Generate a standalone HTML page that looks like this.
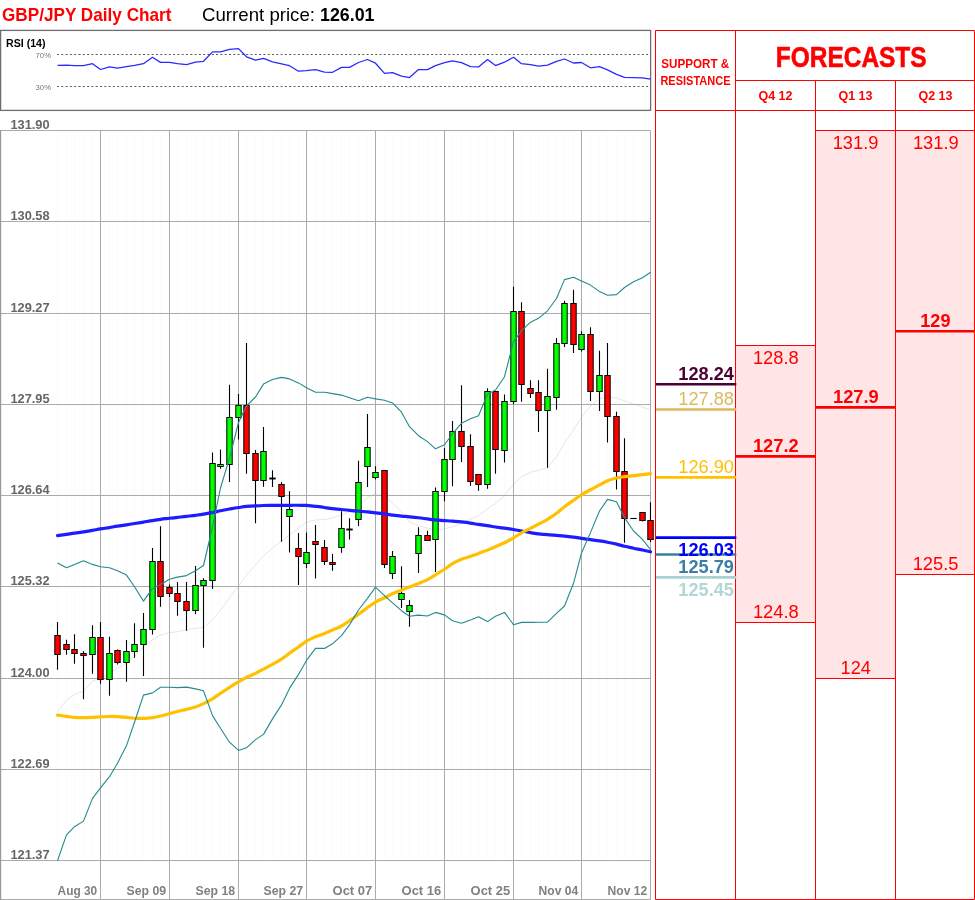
<!DOCTYPE html>
<html lang="en">
<head>
<meta charset="utf-8">
<title>GBP/JPY Daily Chart</title>
<style>html,body{margin:0;padding:0;background:#fff}body{width:975px;height:900px;overflow:hidden}svg{display:block}</style>
</head>
<body>
<svg width="975" height="900" viewBox="0 0 975 900" font-family='"Liberation Sans", Arial, sans-serif'>
<rect width="975" height="900" fill="#fff"/>
<text x="2" y="20.5" font-size="18.2" fill="#ff0000" font-weight="bold" textLength="169.5" lengthAdjust="spacingAndGlyphs">GBP/JPY Daily Chart</text>
<text x="202" y="20.5" font-size="18.2" fill="#000" textLength="113" lengthAdjust="spacingAndGlyphs">Current price:</text>
<text x="320" y="20.5" font-size="18.2" fill="#000" font-weight="bold" textLength="54.5" lengthAdjust="spacingAndGlyphs">126.01</text>
<rect x="0.6" y="30.4" width="650" height="80" fill="#fff" stroke="#6e6e6e" stroke-width="1.3"/>
<text x="6" y="47.1" font-size="11.6" fill="#000" font-weight="bold" textLength="39.5" lengthAdjust="spacingAndGlyphs">RSI (14)</text>
<text x="35.6" y="57.7" font-size="7.8" fill="#757575" textLength="15.4" lengthAdjust="spacingAndGlyphs">70%</text>
<text x="35.6" y="89.8" font-size="7.8" fill="#757575" textLength="15.4" lengthAdjust="spacingAndGlyphs">30%</text>
<path d="M57 54.5H650M57 86.5H650" stroke="#5a5a5a" stroke-width="1" stroke-dasharray="2 2.3" fill="none"/>
<polyline points="57.5,65.4 66.5,65.1 74.5,65.6 83.5,65.6 92.5,63.7 100.5,69.5 109.5,66.8 117.5,68.1 126.5,66.6 134.5,65.4 143.5,63.7 152.5,57.3 160.5,62.4 169.5,62.4 177.5,63.7 186.5,64.7 195.5,62.2 203.5,61.3 212.5,51.9 220.5,51.9 229.5,49.3 238.5,48.6 246.5,56.8 255.5,60.2 263.5,58.3 272.5,61.8 281.5,63.9 289.5,65.7 298.5,71.2 306.5,70.6 315.5,69.6 324.5,72.2 332.5,72.3 341.5,67.4 349.5,67.4 358.5,62.5 367.5,59.5 375.5,63.2 384.5,73.4 392.5,72.7 401.5,76.2 409.5,77.6 418.5,69.6 427.5,69.6 435.5,65.6 444.5,62.7 452.5,60.8 461.5,62.7 470.5,66.6 478.5,66.9 487.5,59.6 495.5,65.6 504.5,62.2 513.5,57.3 521.5,63.7 530.5,64.6 538.5,66.1 547.5,65.1 556.5,61.3 564.5,59.0 573.5,63.0 581.5,62.5 590.5,67.8 599.5,66.6 607.5,69.8 616.5,74.4 624.5,77.4 633.5,77.6 642.5,77.8 650.5,79.1" fill="none" stroke="#2a2aff" stroke-width="1.3" stroke-linejoin="round"/>
<path d="M57.5 130.5V860.5M66.5 130.5V860.5M74.5 130.5V860.5M83.5 130.5V860.5M92.5 130.5V860.5M109.5 130.5V860.5M117.5 130.5V860.5M126.5 130.5V860.5M134.5 130.5V860.5M143.5 130.5V860.5M152.5 130.5V860.5M160.5 130.5V860.5M177.5 130.5V860.5M186.5 130.5V860.5M195.5 130.5V860.5M203.5 130.5V860.5M212.5 130.5V860.5M220.5 130.5V860.5M229.5 130.5V860.5M246.5 130.5V860.5M255.5 130.5V860.5M263.5 130.5V860.5M272.5 130.5V860.5M281.5 130.5V860.5M289.5 130.5V860.5M298.5 130.5V860.5M315.5 130.5V860.5M324.5 130.5V860.5M332.5 130.5V860.5M341.5 130.5V860.5M349.5 130.5V860.5M358.5 130.5V860.5M367.5 130.5V860.5M384.5 130.5V860.5M392.5 130.5V860.5M401.5 130.5V860.5M409.5 130.5V860.5M418.5 130.5V860.5M427.5 130.5V860.5M435.5 130.5V860.5M452.5 130.5V860.5M461.5 130.5V860.5M470.5 130.5V860.5M478.5 130.5V860.5M487.5 130.5V860.5M495.5 130.5V860.5M504.5 130.5V860.5M521.5 130.5V860.5M530.5 130.5V860.5M538.5 130.5V860.5M547.5 130.5V860.5M556.5 130.5V860.5M564.5 130.5V860.5M573.5 130.5V860.5M590.5 130.5V860.5M599.5 130.5V860.5M607.5 130.5V860.5M616.5 130.5V860.5M624.5 130.5V860.5M633.5 130.5V860.5M642.5 130.5V860.5" stroke="#fbfbfb" stroke-width="1" fill="none"/>
<polyline points="57.5,711.8 66.5,700 74.5,694.5 83.5,691 92.5,681 100.5,678.7 109.5,673 117.5,668 126.5,663 134.5,656.7 143.5,646.7 152.5,639.7 160.5,635 169.5,632.8 177.5,631.7 186.5,630 195.5,628.3 203.5,627.5 212.5,620 220.5,610 229.5,598 238.5,586 246.5,575 255.5,565 263.5,556 272.5,548 281.5,541 289.5,535 298.5,528 306.5,522 315.5,520 324.5,519.5 332.5,518 341.5,515 349.5,512 358.5,506 367.5,498 375.5,493.5 384.5,497 392.5,503 401.5,512 409.5,522 418.5,525.6 427.5,528.2 435.5,530 444.5,528.9 452.5,526.7 461.5,523.3 470.5,519.3 478.5,515.6 487.5,508.9 495.5,503.3 504.5,495.6 513.5,484.4 521.5,476.7 530.5,472.2 538.5,470.4 547.5,467.8 556.5,456.7 564.5,443 573.5,430 581.5,417 590.5,406 599.5,399 607.5,397 616.5,398 624.5,401 633.5,404 642.5,407 650.5,410" fill="none" stroke="#e6e6e6" stroke-width="1"/>
<path d="M0 130.5H650.5M0 221.5H650.5M0 313.5H650.5M0 404.5H650.5M0 495.5H650.5M0 586.5H650.5M0 678.5H650.5M0 769.5H650.5M0 860.5H650.5M100.5 130.5V899.5M169.5 130.5V899.5M238.5 130.5V899.5M306.5 130.5V899.5M375.5 130.5V899.5M444.5 130.5V899.5M513.5 130.5V899.5M581.5 130.5V899.5M650.5 130.5V899.5M0 899.5H651.0" stroke="#ababab" stroke-width="1" fill="none"/>
<path d="M0.6 130.0V900" stroke="#999" stroke-width="1.2" fill="none"/>
<text x="10.4" y="128.8" font-size="12.4" fill="#666" font-weight="bold" textLength="39.2" lengthAdjust="spacingAndGlyphs">131.90</text>
<text x="10.4" y="219.8" font-size="12.4" fill="#666" font-weight="bold" textLength="39.2" lengthAdjust="spacingAndGlyphs">130.58</text>
<text x="10.4" y="311.8" font-size="12.4" fill="#666" font-weight="bold" textLength="39.2" lengthAdjust="spacingAndGlyphs">129.27</text>
<text x="10.4" y="402.8" font-size="12.4" fill="#666" font-weight="bold" textLength="39.2" lengthAdjust="spacingAndGlyphs">127.95</text>
<text x="10.4" y="493.8" font-size="12.4" fill="#666" font-weight="bold" textLength="39.2" lengthAdjust="spacingAndGlyphs">126.64</text>
<text x="10.4" y="584.8" font-size="12.4" fill="#666" font-weight="bold" textLength="39.2" lengthAdjust="spacingAndGlyphs">125.32</text>
<text x="10.4" y="676.8" font-size="12.4" fill="#666" font-weight="bold" textLength="39.2" lengthAdjust="spacingAndGlyphs">124.00</text>
<text x="10.4" y="767.8" font-size="12.4" fill="#666" font-weight="bold" textLength="39.2" lengthAdjust="spacingAndGlyphs">122.69</text>
<text x="10.4" y="858.8" font-size="12.4" fill="#666" font-weight="bold" textLength="39.2" lengthAdjust="spacingAndGlyphs">121.37</text>
<text x="97.2" y="894.6" font-size="12.4" fill="#808080" font-weight="bold" text-anchor="end" textLength="39.6" lengthAdjust="spacingAndGlyphs">Aug 30</text>
<text x="166.2" y="894.6" font-size="12.4" fill="#808080" font-weight="bold" text-anchor="end" textLength="39.6" lengthAdjust="spacingAndGlyphs">Sep 09</text>
<text x="235.2" y="894.6" font-size="12.4" fill="#808080" font-weight="bold" text-anchor="end" textLength="39.6" lengthAdjust="spacingAndGlyphs">Sep 18</text>
<text x="303.2" y="894.6" font-size="12.4" fill="#808080" font-weight="bold" text-anchor="end" textLength="39.6" lengthAdjust="spacingAndGlyphs">Sep 27</text>
<text x="372.2" y="894.6" font-size="12.4" fill="#808080" font-weight="bold" text-anchor="end" textLength="39.6" lengthAdjust="spacingAndGlyphs">Oct 07</text>
<text x="441.2" y="894.6" font-size="12.4" fill="#808080" font-weight="bold" text-anchor="end" textLength="39.6" lengthAdjust="spacingAndGlyphs">Oct 16</text>
<text x="510.2" y="894.6" font-size="12.4" fill="#808080" font-weight="bold" text-anchor="end" textLength="39.6" lengthAdjust="spacingAndGlyphs">Oct 25</text>
<text x="578.2" y="894.6" font-size="12.4" fill="#808080" font-weight="bold" text-anchor="end" textLength="39.6" lengthAdjust="spacingAndGlyphs">Nov 04</text>
<text x="647.2" y="894.6" font-size="12.4" fill="#808080" font-weight="bold" text-anchor="end" textLength="39.6" lengthAdjust="spacingAndGlyphs">Nov 12</text>
<path d="M57.5 622V669.7M66.5 639.7V654.7M74.5 634.2V663.7M83.5 651.3V699.3M92.5 625.2V673.8M100.5 622V683.7M109.5 636.7V695.8M117.5 649.5V664.5M126.5 640V681.7M134.5 623.2V657.7M143.5 613V676M152.5 548V634.5M160.5 526.3V606.7M169.5 584.5V597M177.5 582V615.8M186.5 582V630.7M195.5 566V614.2M203.5 578.3V647.8M212.5 452.5V589M220.5 449.5V468.7M229.5 384.7V482M238.5 394V439.5M246.5 343V473.7M255.5 450V523.3M263.5 427V486.7M272.5 470.3V487M281.5 482V541.7M289.5 491.3V552.5M298.5 533V585M306.5 532.5V568M315.5 525V578.5M324.5 540V565M332.5 554V570.7M341.5 511.3V552.7M349.5 518.3V539.5M358.5 460.8V526M367.5 414V487M375.5 466.3V479.5M384.5 470V568M392.5 551V579M401.5 566.3V608M409.5 600V626.7M418.5 527.2V573M427.5 530.8V541M435.5 487.5V572M444.5 448V501.3M452.5 421V486.3M461.5 385.3V462M470.5 434.3V485.8M478.5 474.5V490.8M487.5 388.3V488.7M495.5 391V473.8M504.5 394.5V462.5M513.5 286.7V404.2M521.5 302.2V401.7M530.5 380.3V398M538.5 380.2V432M547.5 368.8V467.7M556.5 338V409.7M564.5 300.8V347M573.5 289.7V353M581.5 331.3V351.5M590.5 327.2V401M599.5 350.8V411M607.5 343V442.6M616.5 411.8V489.4M624.5 438.3V542.8M642.5 512.5V521.4M650.5 502.2V542" stroke="#000" stroke-width="1.1" fill="none"/>
<rect x="54.8" y="635.5" width="5.4" height="19.0" fill="#ff0000" stroke="#000" stroke-width="1"/>
<rect x="63.8" y="644.5" width="5.4" height="5.0" fill="#ff0000" stroke="#000" stroke-width="1"/>
<rect x="71.8" y="649.5" width="5.4" height="4.0" fill="#ff0000" stroke="#000" stroke-width="1"/>
<rect x="80.8" y="653.5" width="5.4" height="2.0" fill="#ff0000" stroke="#000" stroke-width="1"/>
<rect x="89.8" y="637.5" width="5.4" height="17.0" fill="#00ff00" stroke="#000" stroke-width="1"/>
<rect x="97.8" y="637.5" width="5.4" height="42.0" fill="#ff0000" stroke="#000" stroke-width="1"/>
<rect x="106.8" y="653.5" width="5.4" height="26.0" fill="#00ff00" stroke="#000" stroke-width="1"/>
<rect x="114.8" y="650.5" width="5.4" height="12.0" fill="#ff0000" stroke="#000" stroke-width="1"/>
<rect x="123.8" y="651.5" width="5.4" height="11.0" fill="#00ff00" stroke="#000" stroke-width="1"/>
<rect x="131.8" y="644.5" width="5.4" height="7.0" fill="#00ff00" stroke="#000" stroke-width="1"/>
<rect x="140.8" y="629.5" width="5.4" height="15.0" fill="#00ff00" stroke="#000" stroke-width="1"/>
<rect x="149.8" y="561.5" width="5.4" height="68.0" fill="#00ff00" stroke="#000" stroke-width="1"/>
<rect x="157.8" y="561.5" width="5.4" height="35.0" fill="#ff0000" stroke="#000" stroke-width="1"/>
<rect x="166.8" y="587.5" width="5.4" height="6.0" fill="#ff0000" stroke="#000" stroke-width="1"/>
<rect x="174.8" y="593.5" width="5.4" height="8.0" fill="#ff0000" stroke="#000" stroke-width="1"/>
<rect x="183.8" y="601.5" width="5.4" height="9.0" fill="#ff0000" stroke="#000" stroke-width="1"/>
<rect x="192.8" y="585.5" width="5.4" height="25.0" fill="#00ff00" stroke="#000" stroke-width="1"/>
<rect x="200.8" y="580.5" width="5.4" height="5.0" fill="#00ff00" stroke="#000" stroke-width="1"/>
<rect x="209.8" y="463.5" width="5.4" height="117.0" fill="#00ff00" stroke="#000" stroke-width="1"/>
<rect x="217.8" y="464.5" width="5.4" height="2.0" fill="#00ff00" stroke="#000" stroke-width="1"/>
<rect x="226.8" y="417.5" width="5.4" height="47.0" fill="#00ff00" stroke="#000" stroke-width="1"/>
<rect x="235.8" y="405.5" width="5.4" height="12.0" fill="#00ff00" stroke="#000" stroke-width="1"/>
<rect x="243.8" y="405.5" width="5.4" height="48.0" fill="#ff0000" stroke="#000" stroke-width="1"/>
<rect x="252.8" y="453.5" width="5.4" height="27.0" fill="#ff0000" stroke="#000" stroke-width="1"/>
<rect x="260.8" y="451.5" width="5.4" height="29.0" fill="#00ff00" stroke="#000" stroke-width="1"/>
<path d="M269.3 478.5H275.7" stroke="#000" stroke-width="1.9" fill="none"/>
<rect x="278.8" y="484.5" width="5.4" height="12.0" fill="#ff0000" stroke="#000" stroke-width="1"/>
<rect x="286.8" y="509.5" width="5.4" height="7.0" fill="#00ff00" stroke="#000" stroke-width="1"/>
<rect x="295.8" y="548.5" width="5.4" height="8.0" fill="#ff0000" stroke="#000" stroke-width="1"/>
<rect x="303.8" y="552.5" width="5.4" height="11.0" fill="#00ff00" stroke="#000" stroke-width="1"/>
<rect x="312.8" y="541.5" width="5.4" height="3.0" fill="#ff0000" stroke="#000" stroke-width="1"/>
<rect x="321.8" y="547.5" width="5.4" height="14.0" fill="#ff0000" stroke="#000" stroke-width="1"/>
<rect x="329.8" y="562.5" width="5.4" height="2.0" fill="#ff0000" stroke="#000" stroke-width="1"/>
<rect x="338.8" y="528.5" width="5.4" height="19.0" fill="#00ff00" stroke="#000" stroke-width="1"/>
<path d="M346.3 529.5H352.7" stroke="#000" stroke-width="1.9" fill="none"/>
<rect x="355.8" y="482.5" width="5.4" height="37.0" fill="#00ff00" stroke="#000" stroke-width="1"/>
<rect x="364.8" y="447.5" width="5.4" height="19.0" fill="#00ff00" stroke="#000" stroke-width="1"/>
<rect x="372.8" y="472.5" width="5.4" height="5.0" fill="#00ff00" stroke="#000" stroke-width="1"/>
<rect x="381.8" y="470.5" width="5.4" height="94.0" fill="#ff0000" stroke="#000" stroke-width="1"/>
<rect x="389.8" y="556.5" width="5.4" height="17.0" fill="#00ff00" stroke="#000" stroke-width="1"/>
<rect x="398.8" y="593.5" width="5.4" height="6.0" fill="#00ff00" stroke="#000" stroke-width="1"/>
<rect x="406.8" y="605.5" width="5.4" height="6.0" fill="#00ff00" stroke="#000" stroke-width="1"/>
<rect x="415.8" y="535.5" width="5.4" height="18.0" fill="#00ff00" stroke="#000" stroke-width="1"/>
<rect x="424.8" y="535.5" width="5.4" height="5.0" fill="#ff0000" stroke="#000" stroke-width="1"/>
<rect x="432.8" y="491.5" width="5.4" height="48.0" fill="#00ff00" stroke="#000" stroke-width="1"/>
<rect x="441.8" y="459.5" width="5.4" height="32.0" fill="#00ff00" stroke="#000" stroke-width="1"/>
<rect x="449.8" y="431.5" width="5.4" height="28.0" fill="#00ff00" stroke="#000" stroke-width="1"/>
<rect x="458.8" y="431.5" width="5.4" height="15.0" fill="#ff0000" stroke="#000" stroke-width="1"/>
<rect x="467.8" y="446.5" width="5.4" height="35.0" fill="#ff0000" stroke="#000" stroke-width="1"/>
<rect x="475.8" y="474.5" width="5.4" height="10.0" fill="#ff0000" stroke="#000" stroke-width="1"/>
<rect x="484.8" y="391.5" width="5.4" height="93.0" fill="#00ff00" stroke="#000" stroke-width="1"/>
<rect x="492.8" y="391.5" width="5.4" height="58.0" fill="#ff0000" stroke="#000" stroke-width="1"/>
<rect x="501.8" y="401.5" width="5.4" height="49.0" fill="#00ff00" stroke="#000" stroke-width="1"/>
<rect x="510.8" y="311.5" width="5.4" height="90.0" fill="#00ff00" stroke="#000" stroke-width="1"/>
<rect x="518.8" y="311.5" width="5.4" height="73.0" fill="#ff0000" stroke="#000" stroke-width="1"/>
<rect x="527.8" y="388.5" width="5.4" height="5.0" fill="#ff0000" stroke="#000" stroke-width="1"/>
<rect x="535.8" y="392.5" width="5.4" height="18.0" fill="#ff0000" stroke="#000" stroke-width="1"/>
<rect x="544.8" y="396.5" width="5.4" height="14.0" fill="#00ff00" stroke="#000" stroke-width="1"/>
<rect x="553.8" y="343.5" width="5.4" height="54.0" fill="#00ff00" stroke="#000" stroke-width="1"/>
<rect x="561.8" y="303.5" width="5.4" height="40.0" fill="#00ff00" stroke="#000" stroke-width="1"/>
<rect x="570.8" y="303.5" width="5.4" height="41.0" fill="#ff0000" stroke="#000" stroke-width="1"/>
<rect x="578.8" y="334.5" width="5.4" height="15.0" fill="#00ff00" stroke="#000" stroke-width="1"/>
<rect x="587.8" y="334.5" width="5.4" height="57.0" fill="#ff0000" stroke="#000" stroke-width="1"/>
<rect x="596.8" y="375.5" width="5.4" height="16.0" fill="#00ff00" stroke="#000" stroke-width="1"/>
<rect x="604.8" y="375.5" width="5.4" height="41.0" fill="#ff0000" stroke="#000" stroke-width="1"/>
<rect x="613.8" y="416.5" width="5.4" height="55.0" fill="#ff0000" stroke="#000" stroke-width="1"/>
<rect x="621.8" y="471.5" width="5.4" height="47.0" fill="#ff0000" stroke="#000" stroke-width="1"/>
<path d="M630.3 518.5H636.7" stroke="#000" stroke-width="1.1" fill="none"/>
<rect x="639.8" y="512.5" width="5.4" height="8.0" fill="#ff0000" stroke="#000" stroke-width="1"/>
<rect x="647.8" y="520.5" width="5.4" height="19.0" fill="#ff0000" stroke="#000" stroke-width="1"/>
<path d="M57.5 535.6C59.0 535.4 63.7 534.8 66.5 534.42C69.3 534.0 71.7 533.6 74.5 533.2C77.3 532.8 80.5 532.3 83.5 531.82C86.5 531.4 89.7 530.9 92.5 530.38C95.3 529.9 97.7 529.4 100.5 528.95C103.3 528.5 106.7 528.0 109.5 527.58C112.3 527.1 114.7 526.6 117.5 526.17C120.3 525.7 123.7 525.2 126.5 524.8C129.3 524.4 131.7 524.0 134.5 523.53C137.3 523.1 140.5 522.6 143.5 522.1C146.5 521.6 149.7 521.0 152.5 520.58C155.3 520.1 157.7 519.7 160.5 519.3C163.3 518.9 166.7 518.6 169.5 518.25C172.3 517.9 174.7 517.6 177.5 517.3C180.3 517.0 183.5 516.7 186.5 516.35C189.5 516.0 192.7 515.7 195.5 515.3C198.3 514.9 200.7 514.6 203.5 514.1C206.3 513.6 209.7 513.1 212.5 512.58C215.3 512.0 217.7 511.4 220.5 510.8C223.3 510.2 226.5 509.6 229.5 509.05C232.5 508.5 235.7 507.9 238.5 507.5C241.3 507.1 243.7 506.7 246.5 506.43C249.3 506.2 252.7 506.0 255.5 505.85C258.3 505.7 260.7 505.6 263.5 505.52C266.3 505.4 269.5 505.4 272.5 505.35C275.5 505.3 278.7 505.3 281.5 505.3C284.3 505.3 286.7 505.3 289.5 505.28C292.3 505.3 295.7 505.2 298.5 505.23C301.3 505.3 303.7 505.3 306.5 505.47C309.3 505.7 312.5 506.0 315.5 506.32C318.5 506.7 321.7 507.1 324.5 507.5C327.3 507.9 329.7 508.3 332.5 508.6C335.3 508.9 338.7 509.2 341.5 509.5C344.3 509.8 346.7 510.1 349.5 510.32C352.3 510.6 355.5 510.9 358.5 511.12C361.5 511.4 364.7 511.6 367.5 511.88C370.3 512.2 372.7 512.5 375.5 512.8C378.3 513.1 381.7 513.5 384.5 513.92C387.3 514.3 389.7 514.7 392.5 515.05C395.3 515.4 398.7 515.8 401.5 516.05C404.3 516.3 406.7 516.6 409.5 516.85C412.3 517.1 415.5 517.4 418.5 517.77C421.5 518.1 424.7 518.6 427.5 518.95C430.3 519.3 432.7 519.7 435.5 519.95C438.3 520.2 441.7 520.4 444.5 520.62C447.3 520.8 449.7 520.9 452.5 521.17C455.3 521.4 458.5 521.6 461.5 521.95C464.5 522.3 467.7 522.7 470.5 523.1C473.3 523.5 475.7 524.0 478.5 524.38C481.3 524.8 484.7 525.2 487.5 525.67C490.3 526.1 492.7 526.6 495.5 527.0C498.3 527.4 501.5 527.8 504.5 528.2C507.5 528.6 510.7 529.0 513.5 529.48C516.3 530.0 518.7 530.5 521.5 531.05C524.3 531.6 527.7 532.2 530.5 532.65C533.3 533.1 535.7 533.6 538.5 533.9C541.3 534.2 544.5 534.5 547.5 534.7C550.5 534.9 553.7 535.1 556.5 535.33C559.3 535.6 561.7 535.8 564.5 536.1C567.3 536.4 570.7 536.7 573.5 537.1C576.3 537.5 578.7 537.9 581.5 538.33C584.3 538.8 587.5 539.2 590.5 539.67C593.5 540.1 596.7 540.5 599.5 540.9C602.3 541.3 604.7 541.7 607.5 542.23C610.3 542.8 613.7 543.4 616.5 544.1C619.3 544.8 621.7 545.6 624.5 546.27C627.3 547.0 630.5 547.6 633.5 548.25C636.5 548.9 639.7 549.4 642.5 550.02C645.3 550.6 649.2 551.5 650.5 551.8" fill="none" stroke="#1c1cff" stroke-width="3.2" stroke-linecap="round"/>
<path d="M57.5 715.1C59.0 715.3 63.7 715.9 66.5 716.33C69.3 716.7 71.7 717.2 74.5 717.4C77.3 717.6 80.5 717.7 83.5 717.67C86.5 717.7 89.7 717.5 92.5 717.37C95.3 717.2 97.7 717.1 100.5 716.92C103.3 716.8 106.7 716.5 109.5 716.48C112.3 716.4 114.7 716.5 117.5 716.65C120.3 716.8 123.7 717.2 126.5 717.45C129.3 717.7 131.7 718.1 134.5 718.23C137.3 718.4 140.5 718.5 143.5 718.45C146.5 718.4 149.7 718.1 152.5 717.67C155.3 717.3 157.7 716.6 160.5 715.95C163.3 715.3 166.7 714.4 169.5 713.67C172.3 712.9 174.7 712.2 177.5 711.45C180.3 710.7 183.5 710.1 186.5 709.35C189.5 708.6 192.7 707.9 195.5 706.95C198.3 706.0 200.7 705.0 203.5 703.65C206.3 702.3 209.7 700.6 212.5 698.88C215.3 697.1 217.7 695.2 220.5 693.25C223.3 691.3 226.5 689.3 229.5 687.4C232.5 685.5 235.7 683.6 238.5 681.9C241.3 680.2 243.7 678.8 246.5 677.4C249.3 676.0 252.7 674.7 255.5 673.35C258.3 672.0 260.7 670.6 263.5 669.07C266.3 667.6 269.5 666.0 272.5 664.35C275.5 662.7 278.7 660.9 281.5 659.08C284.3 657.2 286.7 655.3 289.5 653.25C292.3 651.2 295.7 649.0 298.5 646.98C301.3 645.0 303.7 642.9 306.5 641.15C309.3 639.4 312.5 638.1 315.5 636.78C318.5 635.5 321.7 634.5 324.5 633.42C327.3 632.3 329.7 631.3 332.5 630.08C335.3 628.8 338.7 627.5 341.5 625.98C344.3 624.4 346.7 622.7 349.5 620.7C352.3 618.7 355.5 616.4 358.5 614.25C361.5 612.1 364.7 609.6 367.5 607.55C370.3 605.5 372.7 603.7 375.5 602.12C378.3 600.5 381.7 599.2 384.5 597.83C387.3 596.4 389.7 595.0 392.5 593.7C395.3 592.4 398.7 591.3 401.5 590.15C404.3 589.0 406.7 588.1 409.5 586.97C412.3 585.9 415.5 584.7 418.5 583.47C421.5 582.2 424.7 581.0 427.5 579.55C430.3 578.1 432.7 576.6 435.5 574.85C438.3 573.1 441.7 571.1 444.5 569.25C447.3 567.4 449.7 565.3 452.5 563.58C455.3 561.9 458.5 560.4 461.5 559.22C464.5 558.0 467.7 557.2 470.5 556.28C473.3 555.3 475.7 554.5 478.5 553.45C481.3 552.4 484.7 551.2 487.5 550.12C490.3 549.0 492.7 547.9 495.5 546.67C498.3 545.4 501.5 544.2 504.5 542.77C507.5 541.3 510.7 539.6 513.5 537.9C516.3 536.2 518.7 534.4 521.5 532.85C524.3 531.3 527.7 529.8 530.5 528.35C533.3 526.9 535.7 525.7 538.5 524.2C541.3 522.7 544.5 521.2 547.5 519.4C550.5 517.6 553.7 515.4 556.5 513.32C559.3 511.2 561.7 508.8 564.5 506.67C567.3 504.5 570.7 502.3 573.5 500.35C576.3 498.4 578.7 496.5 581.5 494.75C584.3 493.0 587.5 491.4 590.5 489.75C593.5 488.1 596.7 486.5 599.5 484.95C602.3 483.4 604.7 481.9 607.5 480.72C610.3 479.6 613.7 478.7 616.5 478.02C619.3 477.3 621.7 477.0 624.5 476.6C627.3 476.2 630.5 475.9 633.5 475.58C636.5 475.2 639.7 474.9 642.5 474.6C645.3 474.3 649.2 473.8 650.5 473.6" fill="none" stroke="#ffc000" stroke-width="3.2" stroke-linecap="round"/>
<polyline points="57.5,562.9 66.5,567.8 74.5,564.4 83.5,560.7 92.5,564.4 100.5,566.7 109.5,567.8 117.5,570.7 126.5,575.1 134.5,586.7 143.5,601.1 152.5,588.4 160.5,584.4 169.5,579.3 177.5,577.1 186.5,575.6 195.5,570.7 203.5,565.5 212.5,527 220.5,488 229.5,458 238.5,422.5 246.5,405.8 255.5,397 263.5,384.1 272.5,379.5 281.5,377.4 289.5,378.9 298.5,382.9 306.5,387.8 315.5,392.2 324.5,392.2 332.5,393.6 341.5,395.1 349.5,397.8 358.5,400.7 367.5,397.3 375.5,398.9 384.5,400.2 392.5,402.9 401.5,412.2 409.5,426.7 418.5,435.7 427.5,441.6 435.5,448.8 444.5,444.8 452.5,433.7 461.5,423.3 470.5,418.7 478.5,415.8 487.5,394.2 495.5,390 504.5,376.7 513.5,341.7 521.5,330.8 530.5,322.2 538.5,318.3 547.5,310.8 556.5,298.5 564.5,279.6 573.5,277.3 581.5,281 590.5,285.1 599.5,291.6 607.5,295.3 616.5,294.6 624.5,287.5 633.5,281.8 642.5,277.7 650.5,272.2" fill="none" stroke="#258a8c" stroke-width="1.1" stroke-linejoin="round"/>
<polyline points="57.5,860.7 66.5,834.9 74.5,826.7 83.5,821.1 92.5,798.4 100.5,787.8 109.5,776.7 117.5,763.3 126.5,745.6 134.5,722.2 143.5,695.1 152.5,692.9 160.5,687.3 169.5,687.3 177.5,687.6 186.5,687.1 195.5,688.9 203.5,690.7 212.5,715.6 220.5,728.2 229.5,742.2 238.5,750.4 246.5,747.8 255.5,739.6 263.5,734.4 272.5,718.9 281.5,704.9 289.5,688.4 298.5,674.4 306.5,660.4 315.5,648.4 324.5,648.4 332.5,643.8 341.5,635.6 349.5,624.9 358.5,610 367.5,598.4 375.5,587.1 384.5,595.6 392.5,602.9 401.5,610.7 409.5,616.2 418.5,615.1 427.5,616 435.5,612.4 444.5,614.9 452.5,620.7 461.5,623.3 470.5,620 478.5,616.7 487.5,621.6 495.5,616.2 504.5,612.4 513.5,624.7 521.5,622.4 530.5,622.4 538.5,622.2 547.5,622.2 556.5,613.3 564.5,606 573.5,583.3 581.5,553 590.5,532.6 599.5,511 607.5,499.4 616.5,501.8 624.5,517.6 633.5,531 642.5,539.4 650.5,549.6" fill="none" stroke="#258a8c" stroke-width="1.1" stroke-linejoin="round"/>
<rect x="735.5" y="345.3" width="80.0" height="277.5" fill="#ffe5e5"/>
<rect x="815.5" y="130.3" width="80.0" height="548.0" fill="#ffe5e5"/>
<rect x="895.5" y="130.3" width="79.0" height="443.9" fill="#ffe5e5"/>
<path d="M655.5 30.5H974.5V899.5H655.5ZM735.5 30.5V899.5M815.5 80.5V899.5M895.5 80.5V899.5M735.5 80.5H974.5M655.5 110.5H974.5M735.5 345.5H815.5M735.5 622.5H815.5M815.5 130.5H974.5M815.5 678.5H895.5M895.5 574.5H974.5" stroke="#ff0000" stroke-width="1" fill="none"/>
<path d="M735.5 456.4H815.5M815.5 407.4H895.5M895.5 331.3H974.5" stroke="#ff0000" stroke-width="2.6" fill="none"/>
<text x="695.3" y="67.9" font-size="12.4" fill="#ff0000" font-weight="bold" text-anchor="middle" textLength="68" lengthAdjust="spacingAndGlyphs">SUPPORT &amp;</text>
<text x="695.5" y="84.8" font-size="12.4" fill="#ff0000" font-weight="bold" text-anchor="middle" textLength="70.2" lengthAdjust="spacingAndGlyphs">RESISTANCE</text>
<text x="851.2" y="66.7" font-size="29.6" fill="#ff0000" font-weight="bold" text-anchor="middle" textLength="150.8" lengthAdjust="spacingAndGlyphs" stroke="#ff0000" stroke-width="0.6">FORECASTS</text>
<text x="775.5" y="100" font-size="12.6" fill="#ff0000" font-weight="bold" text-anchor="middle" textLength="34" lengthAdjust="spacingAndGlyphs">Q4 12</text>
<text x="855.5" y="100" font-size="12.6" fill="#ff0000" font-weight="bold" text-anchor="middle" textLength="34" lengthAdjust="spacingAndGlyphs">Q1 13</text>
<text x="935.5" y="100" font-size="12.6" fill="#ff0000" font-weight="bold" text-anchor="middle" textLength="34" lengthAdjust="spacingAndGlyphs">Q2 13</text>
<text x="775.8" y="364" font-size="17.6" fill="#ff0000" text-anchor="middle" textLength="45.8" lengthAdjust="spacingAndGlyphs">128.8</text>
<text x="775.8" y="451.7" font-size="17.6" fill="#ff0000" font-weight="bold" text-anchor="middle" textLength="45.8" lengthAdjust="spacingAndGlyphs">127.2</text>
<text x="775.8" y="617.7" font-size="17.6" fill="#ff0000" text-anchor="middle" textLength="45.8" lengthAdjust="spacingAndGlyphs">124.8</text>
<text x="855.6" y="149" font-size="17.6" fill="#ff0000" text-anchor="middle" textLength="45.8" lengthAdjust="spacingAndGlyphs">131.9</text>
<text x="855.9" y="402.7" font-size="17.6" fill="#ff0000" font-weight="bold" text-anchor="middle" textLength="45.8" lengthAdjust="spacingAndGlyphs">127.9</text>
<text x="855.7" y="673.5" font-size="17.6" fill="#ff0000" text-anchor="middle" textLength="30.2" lengthAdjust="spacingAndGlyphs">124</text>
<text x="935.8" y="149" font-size="17.6" fill="#ff0000" text-anchor="middle" textLength="45.8" lengthAdjust="spacingAndGlyphs">131.9</text>
<text x="935.4" y="326.6" font-size="17.6" fill="#ff0000" font-weight="bold" text-anchor="middle" textLength="30.2" lengthAdjust="spacingAndGlyphs">129</text>
<text x="935.6" y="569.8" font-size="17.6" fill="#ff0000" text-anchor="middle" textLength="45.8" lengthAdjust="spacingAndGlyphs">125.5</text>
<path d="M656.0 554.5H736.3" stroke="#3a7ea6" stroke-width="2.6" fill="none"/>
<text x="733.9" y="573.2" font-size="17.6" fill="#3a7ea6" font-weight="bold" text-anchor="end" textLength="55.6" lengthAdjust="spacingAndGlyphs">125.79</text>
<path d="M656.0 384.3H736.3" stroke="#4d0033" stroke-width="2.6" fill="none"/>
<text x="733.9" y="379.5" font-size="17.6" fill="#4d0033" font-weight="bold" text-anchor="end" textLength="55.6" lengthAdjust="spacingAndGlyphs">128.24</text>
<path d="M656.0 409.5H736.3" stroke="#dcb95f" stroke-width="2.6" fill="none"/>
<text x="733.9" y="404.6" font-size="17.6" fill="#dcb95f" text-anchor="end" textLength="55.6" lengthAdjust="spacingAndGlyphs">127.88</text>
<path d="M656.0 477.4H736.3" stroke="#ffc000" stroke-width="2.6" fill="none"/>
<text x="733.9" y="472.6" font-size="17.6" fill="#ffc000" text-anchor="end" textLength="55.6" lengthAdjust="spacingAndGlyphs">126.90</text>
<path d="M656.0 577.4H736.3" stroke="#a9d1d1" stroke-width="2.6" fill="none"/>
<text x="733.9" y="596" font-size="17.6" fill="#b3d6d6" font-weight="bold" text-anchor="end" textLength="55.6" lengthAdjust="spacingAndGlyphs">125.45</text>
<path d="M656.0 537.6H736.3" stroke="#0000ff" stroke-width="2.6" fill="none"/>
<text x="733.9" y="555.7" font-size="17.6" fill="#0000ff" font-weight="bold" text-anchor="end" textLength="55.6" lengthAdjust="spacingAndGlyphs">126.03</text>
</svg>
</body>
</html>
